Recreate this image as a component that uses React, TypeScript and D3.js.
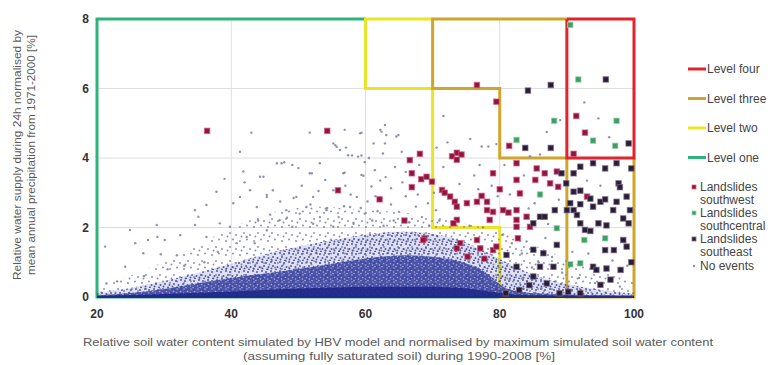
import { useEffect, useRef } from "react";
import * as d3 from "d3";

type Pt = [number, number];

const xTicks = [20, 40, 60, 80, 100];
const yTicks = [0, 2, 4, 6, 8];

// threshold outlines (soil water %, water supply %)
const levelOne: Pt[] = [[60, 8], [20, 8], [20, 0], [80, 0]];
const levelTwo: Pt[] = [[70, 8], [60, 8], [60, 6], [70, 6], [70, 2], [80, 2], [80, 0], [90, 0]];
const levelThree: Pt[] = [[90, 8], [70, 8], [70, 6], [80, 6], [80, 4], [90, 4], [90, 0], [100, 0], [100, 4]];
const levelFour: Pt[] = [[90, 8], [90, 4], [100, 4], [100, 8], [90, 8]];

const southwest: Pt[] = [
  [36.4, 4.78], [54.3, 4.78], [55.9, 3.07], [62.1, 2.81], [65.8, 2.2], [68.8, 1.69],
  [76.6, 6.1], [79.5, 5.62], [81.4, 4.35], [91.4, 5.21], [92.7, 4.73], [91.0, 4.12],
  [73.6, 4.15], [72.9, 4.05], [74.3, 4.1], [73.6, 3.95], [68.1, 4.12], [66.6, 3.94],
  [66.9, 3.56], [68.3, 3.39], [69.1, 3.46], [66.9, 3.16], [69.9, 3.32], [71.4, 3.08],
  [71.8, 3.0], [72.6, 2.89], [73.3, 2.74], [75.1, 2.7], [76.6, 2.74], [78.1, 2.74],
  [77.3, 2.91], [73.6, 2.6], [78.1, 2.5], [79.0, 2.45], [80.5, 2.5], [81.3, 2.43],
  [82.5, 2.5], [73.6, 2.22], [73.1, 2.12], [78.5, 2.22], [82.5, 2.22], [84.0, 2.31],
  [84.5, 2.02], [82.5, 3.85], [85.5, 3.7], [86.7, 3.56], [88.5, 3.61], [79.0, 3.56],
  [82.5, 3.37], [85.3, 3.37], [87.5, 3.27], [88.7, 3.17], [83.0, 2.98], [74.1, 1.55],
  [73.6, 1.4], [76.6, 1.64], [77.1, 1.4], [79.0, 1.35], [79.5, 1.45], [68.6, 1.64],
  [75.2, 1.16], [77.7, 1.1], [82.5, 2.02], [82.7, 1.69], [93.0, 2.89], [80.0, 3.1],
];

const southcentral: Pt[] = [
  [90.5, 7.83], [91.7, 6.26], [88.1, 5.07], [97.4, 5.07], [93.9, 4.5], [97.2, 4.35],
  [82.5, 4.52], [86.0, 2.95], [92.6, 1.64], [95.7, 1.69], [92.0, 0.97], [90.5, 0.94],
  [88.5, 1.98],
];

const southeast: Pt[] = [
  [84.2, 5.94], [87.6, 6.1], [95.8, 6.26], [99.2, 4.42], [83.8, 4.29], [87.6, 4.29],
  [86.0, 2.31], [88.2, 2.5], [90.0, 2.5], [89.2, 3.56], [91.0, 3.56], [92.0, 3.75],
  [93.9, 3.85], [95.7, 3.7], [97.4, 3.85], [97.7, 3.27], [97.9, 3.16], [98.9, 2.89],
  [91.0, 3.03], [92.0, 3.06], [93.5, 2.83], [95.0, 2.74], [95.7, 2.81], [90.5, 2.7],
  [91.0, 2.5], [91.5, 2.36], [92.0, 2.12], [92.7, 1.93], [93.5, 1.9], [94.7, 2.12],
  [95.9, 2.06], [98.4, 2.26], [99.4, 2.5], [99.2, 2.12], [96.9, 2.5], [88.5, 1.5],
  [86.5, 1.26], [85.0, 1.36], [82.5, 0.87], [86.0, 0.87], [88.0, 0.87], [85.0, 0.59],
  [87.0, 0.39], [84.4, 0.34], [82.9, 0.2], [88.9, 0.11], [90.2, 0.15], [93.9, 0.87],
  [94.4, 0.78], [95.9, 0.82], [98.0, 0.78], [95.7, 1.35], [97.0, 1.35], [98.9, 1.45],
  [98.4, 1.64], [95.0, 0.35], [92.0, 0.11], [80.9, 0.11], [81.0, 1.21], [85.0, 2.12],
  [86.7, 2.31], [89.9, 3.27], [92.0, 2.67], [93.9, 2.6], [97.4, 2.74], [99.6, 3.7],
  [99.6, 1.0], [96.5, 0.5],
];

// sparse "no event" days
const noEvents: Pt[] = [
  [21.2, 1.45], [21.4, 0.39], [24.9, 1.93], [24.2, 0.87], [25.7, 1.55], [26.9, 1.26],
  [27.6, 1.64], [28.9, 2.07], [29.0, 1.73], [30.1, 1.64], [29.5, 1.23], [32.4, 1.78],
  [31.9, 1.2], [34.6, 2.5], [36.3, 2.65], [37.8, 3.03], [35.1, 2.31], [34.6, 2.07],
  [38.3, 2.12], [36.3, 1.73], [40.3, 2.7], [41.3, 4.18], [41.8, 3.61], [43.0, 4.73],
  [44.3, 3.46], [44.8, 3.46], [46.8, 3.85], [47.9, 3.88], [49.1, 3.8], [51.7, 4.73],
  [51.7, 3.56], [53.2, 3.85], [55.2, 4.42], [55.7, 4.32], [56.9, 4.81], [57.1, 4.3],
  [56.7, 3.56], [58.0, 4.07], [59.2, 4.71], [59.4, 4.07], [59.7, 3.49], [41.3, 2.88],
  [42.8, 3.07], [43.8, 2.59], [45.3, 2.88], [46.2, 3.07], [48.2, 2.5], [49.7, 2.88],
  [51.2, 2.59], [52.2, 2.88], [54.2, 2.5], [55.2, 3.07], [57.7, 2.59], [58.7, 2.88],
  [59.9, 2.4], [47.2, 2.21], [49.1, 2.02], [52.2, 2.11], [55.2, 2.02], [58.2, 2.11],
  [39.8, 2.02], [42.3, 1.73], [45.3, 1.92], [59.4, 4.73], [62.4, 4.76], [63.1, 4.66],
  [64.9, 4.66], [55.5, 4.37], [56.2, 4.23], [57.4, 4.08], [58.9, 4.04], [59.9, 3.88],
  [62.9, 4.42], [62.6, 4.13], [65.4, 4.18], [47.5, 3.85], [50.0, 3.71], [52.0, 3.56],
  [54.0, 3.37], [56.9, 3.58], [59.4, 3.51], [61.4, 3.65], [64.4, 3.74], [60.9, 3.18],
  [63.8, 3.13], [45.3, 2.94], [47.3, 2.75], [49.3, 2.85], [51.8, 2.66], [54.3, 2.56],
  [56.8, 2.61], [59.3, 2.56], [61.8, 2.47], [63.8, 2.66], [45.8, 2.37], [48.3, 2.28],
  [71.6, 5.21], [78.3, 4.33], [77.3, 4.33], [71.6, 3.74], [89.0, 5.09], [94.7, 5.14],
  [62.2, 4.81], [62.9, 4.95], [64.6, 4.62], [61.2, 4.42], [66.0, 2.9], [67.5, 2.6],
  [65.0, 2.45], [68.4, 2.3], [70.5, 2.5], [71.0, 2.2], [69.5, 2.05], [61.0, 2.2],
  [62.7, 2.05], [64.2, 2.2], [66.5, 2.15], [75.5, 2.05], [77.5, 2.0], [80.5, 1.8],
  [81.8, 1.55], [83.3, 1.25], [84.0, 1.6], [85.8, 1.0], [86.8, 1.7], [87.8, 1.15],
  [89.3, 0.7], [84.8, 0.85], [83.5, 0.55], [86.2, 0.25], [88.3, 0.45], [81.5, 0.5],
  [90.8, 1.3], [91.8, 0.55], [93.2, 1.25], [94.2, 0.4], [96.8, 1.05], [97.9, 0.3],
  [99.0, 0.9], [93.0, 3.35], [95.0, 3.2], [96.3, 4.6], [92.6, 5.6], [87.0, 4.75],
  [84.5, 4.05], [86.0, 4.1], [80.7, 3.8], [78.8, 3.2], [76.2, 3.5], [75.6, 4.55],
  [70.6, 4.3], [72.2, 4.45], [36.0, 1.0], [33.0, 0.9], [38.0, 1.3], [27.0, 0.6],
  [30.5, 0.8], [23.0, 0.45], [40.8, 1.55], [43.5, 1.55], [39.0, 3.4], [42.0, 3.3],
  [50.5, 3.2], [53.0, 3.05], [57.0, 3.2], [61.5, 2.9], [63.0, 3.45], [65.5, 3.3],
  [67.8, 2.95], [69.3, 2.7], [66.0, 3.6], [68.0, 3.8], [60.5, 4.0], [44.0, 2.2],
  [50.2, 2.4], [53.2, 2.3], [56.0, 2.3], [57.8, 2.95], [60.3, 2.75], [62.2, 3.35],
  [70.2, 3.0], [74.0, 3.25], [76.8, 3.1], [79.7, 2.9], [83.6, 3.5], [85.2, 2.7],
  [87.2, 2.1], [88.8, 2.8], [84.3, 2.55], [81.5, 2.95], [77.0, 3.8], [79.5, 4.4],
];

// envelopes of the no-event cloud: sparse speckle, medium and dense band
const cloudSparse: Pt[] = [
  [20, 0.3], [25, 0.6], [30, 1.0], [35, 1.5], [40, 2.0], [45, 2.4], [50, 2.6],
  [55, 2.6], [60, 2.5], [65, 2.45], [70, 2.35], [75, 2.1], [80, 1.9], [85, 1.5],
  [90, 1.1], [95, 0.8], [100, 0.5],
];
const cloudMid: Pt[] = [
  [20, 0.12], [25, 0.25], [30, 0.45], [35, 0.7], [40, 0.95], [45, 1.25], [50, 1.45],
  [55, 1.65], [60, 1.8], [65, 1.9], [70, 1.85], [75, 1.6], [80, 1.1], [85, 0.6],
  [90, 0.35], [95, 0.2], [100, 0.1],
];
const cloudDense: Pt[] = [
  [20, 0.05], [25, 0.1], [30, 0.22], [35, 0.4], [40, 0.55], [45, 0.68], [50, 0.8],
  [55, 0.95], [60, 1.12], [65, 1.22], [70, 1.18], [75, 1.0], [78, 0.75], [80, 0.3],
  [83, 0.08], [100, 0.04],
];
const cloudCore: Pt[] = [
  [20, 0.03], [30, 0.08], [40, 0.15], [50, 0.25], [60, 0.3], [70, 0.3], [76, 0.25],
  [80, 0.1], [84, 0.04], [100, 0.03],
];

const legendLines = [
  { label: "Level four", color: "#e3222b" },
  { label: "Level three", color: "#cfa62a" },
  { label: "Level two", color: "#e9e428" },
  { label: "Level one", color: "#2fb37c" },
];

const legendMarks = [
  { lines: ["Landslides", "southwest"], fill: "#8c1840", stroke: "#e05a86" },
  { lines: ["Landslides", "southcentral"], fill: "#3f9d65", stroke: "#9ad8b0" },
  { lines: ["Landslides", "southeast"], fill: "#2a1e36", stroke: "#7a6a8a" },
  { lines: ["No events"], fill: "#8a8fbf", stroke: "none" },
];

export default function App() {
  const svgRef = useRef<SVGSVGElement>(null);

  useEffect(() => {
    if (!svgRef.current) return;
    const svg = d3.select(svgRef.current);
    svg.selectAll("*").remove();

    const x = d3.scaleLinear().domain([20, 100]).range([97, 634]);
    const y = d3.scaleLinear().domain([0, 8]).range([297, 19]);
    const font = "'Liberation Sans', Arial, sans-serif";

    // speckle textures for the cloud
    const defs = svg.append("defs");
    const makePattern = (id: string, size: number, dots: number[][], color: string, r: number) => {
      const p = defs.append("pattern")
        .attr("id", id)
        .attr("width", size)
        .attr("height", size)
        .attr("patternUnits", "userSpaceOnUse");
      dots.forEach(([px, py]) => {
        p.append("circle").attr("cx", px).attr("cy", py).attr("r", r).style("fill", color);
      });
    };
    makePattern("sparseDots", 14, [[2, 3], [9, 1.5], [6, 9], [12, 11], [3.5, 12.5]], "#8a8cab", 0.95);
    makePattern("midDots", 9, [[1, 1], [5, 2], [3, 5], [7.5, 6], [1.5, 7.5], [6, 8.5]], "#4148a2", 1.0);
    makePattern("denseHoles", 7, [[2, 2], [5.5, 4.5], [1.5, 6], [4, 0.5]], "#ffffff", 0.8);

    // grid
    svg.append("g").selectAll("line")
      .data([40, 60, 80])
      .enter().append("line")
      .attr("x1", d => x(d)).attr("x2", d => x(d))
      .attr("y1", y(8)).attr("y2", y(0))
      .style("stroke", "#dedede").style("stroke-width", 1);
    svg.append("g").selectAll("line")
      .data([2, 4, 6])
      .enter().append("line")
      .attr("x1", x(20)).attr("x2", x(100))
      .attr("y1", d => y(d)).attr("y2", d => y(d))
      .style("stroke", "#dedede").style("stroke-width", 1);

    const line = d3.line<Pt>().x(d => x(d[0])).y(d => y(d[1]));
    const levels: [Pt[], string][] = [
      [levelOne, "#2fb37c"],
      [levelTwo, "#e9e428"],
      [levelThree, "#cfa62a"],
      [levelFour, "#e3222b"],
    ];
    levels.forEach(([pts, color]) => {
      svg.append("path")
        .attr("d", line(pts))
        .style("fill", "none")
        .style("stroke", color)
        .style("stroke-width", 3);
    });

    // no-event cloud
    const area = d3.area<Pt>().x(d => x(d[0])).y0(y(0) + 1).y1(d => y(d[1])).curve(d3.curveBasis);
    svg.append("path").attr("d", area(cloudSparse)).style("fill", "url(#sparseDots)");
    svg.append("path").attr("d", area(cloudMid)).style("fill", "#6b70b4").style("opacity", 0.22);
    svg.append("path").attr("d", area(cloudMid)).style("fill", "url(#midDots)").style("opacity", 0.9);
    svg.append("path").attr("d", area(cloudDense)).style("fill", "#3a42a0").style("opacity", 0.88);
    svg.append("path").attr("d", area(cloudDense)).style("fill", "url(#denseHoles)").style("opacity", 0.5);
    svg.append("path").attr("d", area(cloudCore)).style("fill", "#1f2788").style("opacity", 0.9);

    svg.append("g").selectAll("circle")
      .data(noEvents)
      .enter().append("circle")
      .attr("cx", d => x(d[0]))
      .attr("cy", d => y(d[1]))
      .attr("r", 1.2)
      .style("fill", "#7a7ca8")
      .style("opacity", 0.85);

    const drawSquares = (pts: Pt[], fill: string, stroke: string) => {
      svg.append("g").selectAll("rect")
        .data(pts)
        .enter().append("rect")
        .attr("x", d => x(d[0]) - 2.75)
        .attr("y", d => y(d[1]) - 2.75)
        .attr("width", 5.5)
        .attr("height", 5.5)
        .style("fill", fill)
        .style("stroke", stroke)
        .style("stroke-width", 1)
        .style("stroke-opacity", 0.7);
    };
    drawSquares(southwest, "#8c1840", "#e05a86");
    drawSquares(southeast, "#2a1e36", "#7a6a8a");
    drawSquares(southcentral, "#3f9d65", "#9ad8b0");

    // tick labels
    svg.append("g").selectAll("text")
      .data(xTicks)
      .enter().append("text")
      .attr("x", d => x(d))
      .attr("y", 318)
      .attr("text-anchor", "middle")
      .style("font-family", font)
      .style("font-size", "12px")
      .style("font-weight", "bold")
      .style("fill", "#333")
      .text(d => d);
    svg.append("g").selectAll("text")
      .data(yTicks)
      .enter().append("text")
      .attr("x", 89)
      .attr("y", d => y(d) + 4)
      .attr("text-anchor", "end")
      .style("font-family", font)
      .style("font-size", "12px")
      .style("font-weight", "bold")
      .style("fill", "#333")
      .text(d => d);

    // axis titles
    const yTitle = svg.append("text")
      .attr("transform", "translate(21,155) rotate(-90)")
      .attr("text-anchor", "middle")
      .style("font-family", font)
      .style("font-size", "11.5px")
      .style("fill", "#5a5a5a");
    yTitle.append("tspan").attr("x", 0).attr("y", 0)
      .attr("textLength", 250).attr("lengthAdjust", "spacingAndGlyphs")
      .text("Relative water supply during 24h normalised by");
    yTitle.append("tspan").attr("x", 0).attr("y", 14)
      .attr("textLength", 240).attr("lengthAdjust", "spacingAndGlyphs")
      .text("mean annual precipitation from 1971-2000 [%]");

    const xTitle = svg.append("text")
      .attr("text-anchor", "middle")
      .style("font-family", font)
      .style("font-size", "11.5px")
      .style("fill", "#5a5a5a");
    xTitle.append("tspan").attr("x", 398).attr("y", 346)
      .attr("textLength", 630).attr("lengthAdjust", "spacingAndGlyphs")
      .text("Relative soil water content simulated by HBV model and normalised by maximum simulated soil water content");
    xTitle.append("tspan").attr("x", 399).attr("y", 360)
      .attr("textLength", 312).attr("lengthAdjust", "spacingAndGlyphs")
      .text("(assuming fully saturated soil) during 1990-2008 [%]");

    // legend
    const legend = svg.append("g");
    legendLines.forEach((item, i) => {
      const ly = 69 + i * 29.5;
      legend.append("line")
        .attr("x1", 688).attr("x2", 706)
        .attr("y1", ly).attr("y2", ly)
        .style("stroke", item.color).style("stroke-width", 3);
      legend.append("text")
        .attr("x", 707).attr("y", ly + 4)
        .style("font-family", font).style("font-size", "12px").style("fill", "#444")
        .text(item.label);
    });
    const markY = [187, 213, 239, 266];
    legendMarks.forEach((item, i) => {
      const ly = markY[i];
      if (item.stroke === "none") {
        legend.append("circle").attr("cx", 694).attr("cy", ly).attr("r", 1.2).style("fill", item.fill);
      } else {
        legend.append("rect")
          .attr("x", 692).attr("y", ly - 2).attr("width", 4).attr("height", 4)
          .style("fill", item.fill).style("stroke", item.stroke).style("stroke-width", 0.8);
      }
      item.lines.forEach((t, k) => {
        legend.append("text")
          .attr("x", 700).attr("y", ly + 4 + k * 13)
          .style("font-family", font).style("font-size", "12px").style("fill", "#444")
          .text(t);
      });
    });
  }, []);

  return (
    <svg
      ref={svgRef}
      width={780}
      height={365}
      style={{ position: "absolute", left: 0, top: 0, background: "#fff", display: "block" }}
    />
  );
}
